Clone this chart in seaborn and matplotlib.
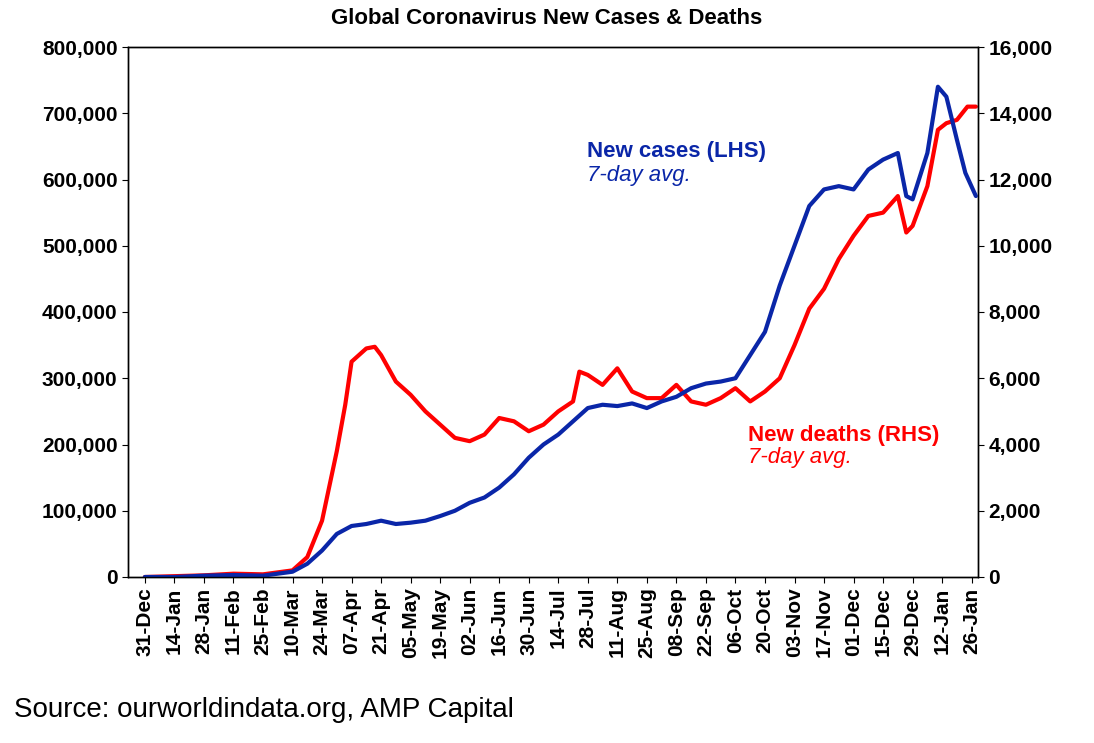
import numpy as np
import pandas as pd
import matplotlib
matplotlib.use("Agg")
import matplotlib.pyplot as plt
import matplotlib.dates as mdates
import matplotlib.ticker as mticker
import seaborn as sns

# ── data ─────────────────────────────────────────────────────────────────────
case_dates = ["2019-12-31","2020-01-14","2020-01-28","2020-02-11","2020-02-25","2020-03-10",
              "2020-03-17","2020-03-24","2020-03-31","2020-04-07","2020-04-14","2020-04-21",
              "2020-04-28","2020-05-05","2020-05-12","2020-05-19","2020-05-26","2020-06-02",
              "2020-06-09","2020-06-16","2020-06-23","2020-06-30","2020-07-07","2020-07-14",
              "2020-07-21","2020-07-28","2020-08-04","2020-08-11","2020-08-18","2020-08-25",
              "2020-09-01","2020-09-08","2020-09-15","2020-09-22","2020-09-29","2020-10-06",
              "2020-10-13","2020-10-20","2020-10-27","2020-11-03","2020-11-10","2020-11-17",
              "2020-11-24","2020-12-01","2020-12-08","2020-12-15","2020-12-22","2020-12-26",
              "2020-12-29","2021-01-05","2021-01-10","2021-01-14","2021-01-19","2021-01-23",
              "2021-01-28"]
new_cases = [0, 0, 2000, 3000, 2000, 8000, 20000, 40000, 65000, 77000, 80000, 85000,
             80000, 82000, 85000, 92000, 100000, 112000, 120000, 135000, 155000, 180000,
             200000, 215000, 235000, 255000, 260000, 258000, 262000, 255000, 265000,
             272000, 285000, 292000, 295000, 300000, 335000, 370000, 440000, 500000,
             560000, 585000, 590000, 585000, 615000, 630000, 640000, 575000, 570000,
             640000, 740000, 725000, 660000, 610000, 575000]

death_dates = ["2019-12-31","2020-01-28","2020-02-11","2020-02-25","2020-03-10","2020-03-17",
               "2020-03-24","2020-03-31","2020-04-04","2020-04-07","2020-04-14","2020-04-18",
               "2020-04-21","2020-04-28","2020-05-05","2020-05-12","2020-05-19","2020-05-26",
               "2020-06-02","2020-06-09","2020-06-16","2020-06-23","2020-06-30","2020-07-07",
               "2020-07-14","2020-07-21","2020-07-24","2020-07-28","2020-08-04","2020-08-11",
               "2020-08-18","2020-08-25","2020-09-01","2020-09-08","2020-09-15","2020-09-22",
               "2020-09-29","2020-10-06","2020-10-13","2020-10-20","2020-10-27","2020-11-03",
               "2020-11-10","2020-11-17","2020-11-24","2020-12-01","2020-12-08","2020-12-15",
               "2020-12-22","2020-12-26","2020-12-29","2021-01-05","2021-01-10","2021-01-14",
               "2021-01-19","2021-01-24","2021-01-28"]
new_deaths = [0, 50, 100, 80, 200, 600, 1700, 3800, 5200, 6500, 6900, 6950, 6700, 5900,
              5500, 5000, 4600, 4200, 4100, 4300, 4800, 4700, 4400, 4600, 5000, 5300,
              6200, 6100, 5800, 6300, 5600, 5400, 5400, 5800, 5300, 5200, 5400, 5700,
              5300, 5600, 6000, 7000, 8100, 8700, 9600, 10300, 10900, 11000, 11500,
              10400, 10600, 11800, 13500, 13700, 13800, 14200, 14200]

cases = pd.DataFrame({"date": pd.to_datetime(case_dates), "cases": new_cases})
deaths = pd.DataFrame({"date": pd.to_datetime(death_dates), "deaths": new_deaths})

# ── plot ─────────────────────────────────────────────────────────────────────
sns.set_style("white")
plt.rcParams["font.family"] = ["Liberation Sans", "DejaVu Sans"]
plt.rcParams["text.color"] = "black"
plt.rcParams["xtick.color"] = "black"
plt.rcParams["ytick.color"] = "black"
BLUE, RED = "#0a26a8", "#ff0000"

fig = plt.figure(figsize=(10.94, 7.43), dpi=100)
ax = fig.add_axes([128/1094, 1-577/743, (978-128)/1094, (577-47)/743])
ax2 = ax.twinx()

sns.lineplot(data=deaths, x="date", y="deaths", ax=ax2, color=RED, lw=3)
sns.lineplot(data=cases, x="date", y="cases", ax=ax, color=BLUE, lw=3)
ax.set_zorder(ax2.get_zorder() + 1)
ax.patch.set_visible(False)

ax.set_ylim(0, 800000)
ax2.set_ylim(0, 16000)
ax.set_xlim(pd.Timestamp("2019-12-23"), pd.Timestamp("2021-01-29"))
ax.yaxis.set_major_locator(mticker.MultipleLocator(100000))
ax2.yaxis.set_major_locator(mticker.MultipleLocator(2000))
ax.yaxis.set_major_formatter(mticker.StrMethodFormatter("{x:,.0f}"))
ax2.yaxis.set_major_formatter(mticker.StrMethodFormatter("{x:,.0f}"))

ticks = pd.date_range("2019-12-31", "2021-01-26", freq="14D")
ax.set_xticks(ticks)
ax.set_xticklabels([t.strftime("%d-%b") for t in ticks], rotation=90)
for a in (ax, ax2):
    a.set_xlabel("")
    a.set_ylabel("")
    a.tick_params(labelsize=15, length=4, direction="out", colors="black")
    for lbl in a.get_xticklabels() + a.get_yticklabels():
        lbl.set_fontweight("bold")
    for s in a.spines.values():
        s.set_color("black")
        s.set_linewidth(1)
ax.tick_params(axis="x", bottom=True)
ax.tick_params(axis="y", left=True)
ax2.tick_params(axis="y", right=True)

fig.text(0.5, 1-18/743, "Global Coronavirus New Cases & Deaths", ha="center", va="center",
         fontsize=16, fontweight="bold")
fig.text(587/1094, 1-152/743, "New cases (LHS)", color=BLUE, fontsize=16, fontweight="bold", va="center")
fig.text(587/1094, 1-175/743, "7-day avg.", color=BLUE, fontsize=16, style="italic", va="center")
fig.text(748/1094, 1-435/743, "New deaths (RHS)", color=RED, fontsize=16, fontweight="bold", va="center")
fig.text(748/1094, 1-458/743, "7-day avg.", color=RED, fontsize=16, style="italic", va="center")
fig.text(14/1094, 1-710/743, "Source: ourworldindata.org, AMP Capital", fontsize=20, va="center")

fig.savefig("out.png", dpi=100)
